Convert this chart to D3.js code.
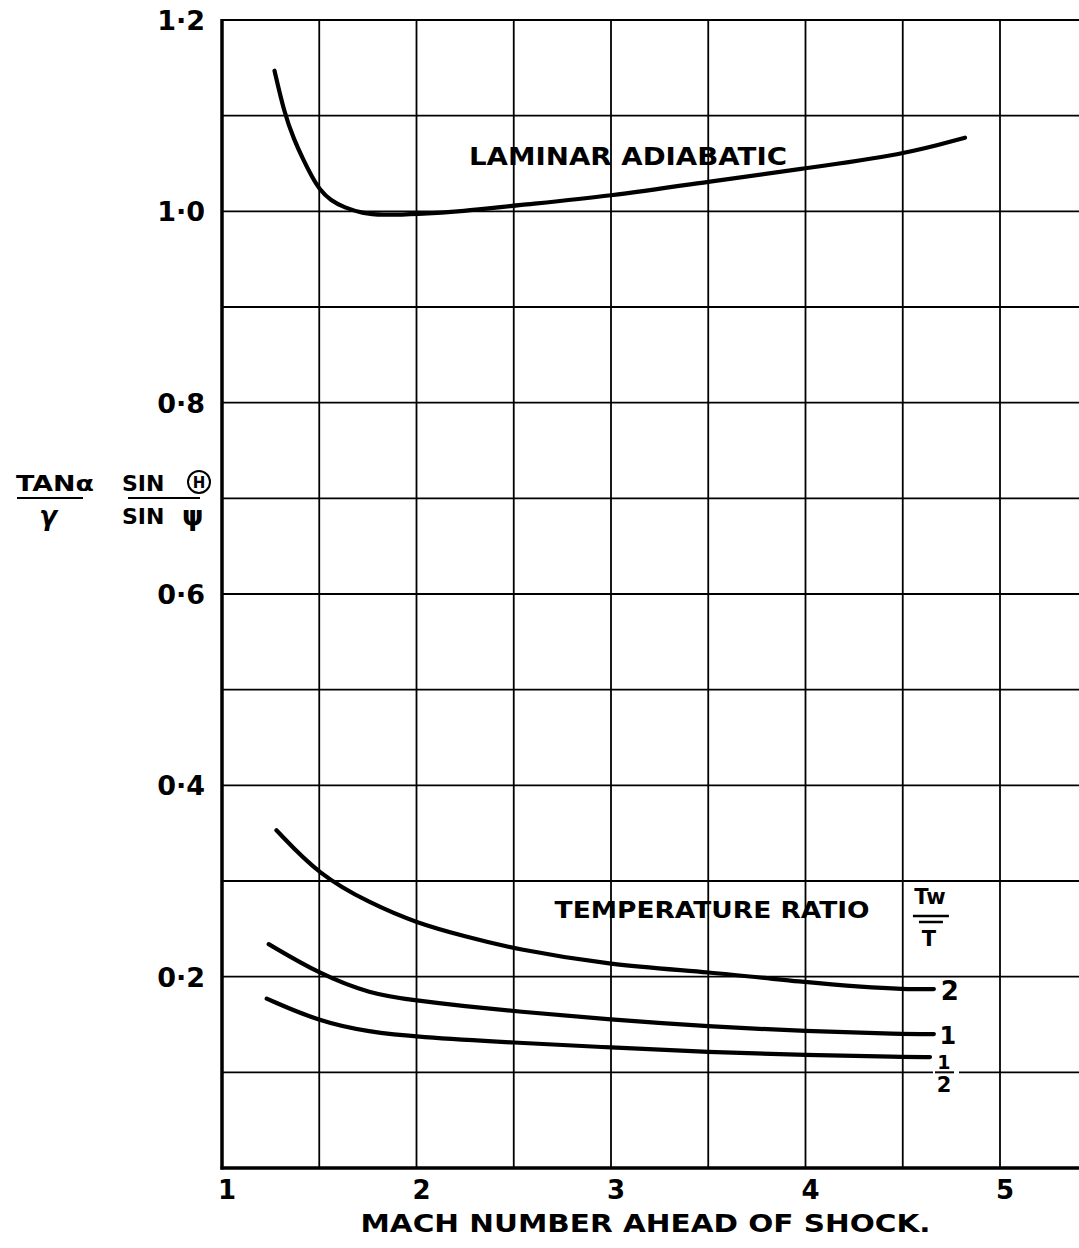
<!DOCTYPE html>
<html>
<head>
<meta charset="utf-8">
<script src="https://cdn.jsdelivr.net/npm/d3@7"></script>
<style>
	body { margin: 0; background: #fff; }
	svg { display: block; }
	text { font-family: "DejaVu Sans", sans-serif; font-weight: bold; fill: #000; }
</style>
</head>
<body>
<div id="chart"></div>
<script>
// values: [mach number, tan(alpha)/gamma * sin(H)/sin(psi)]
var laminarAdiabatic = [
	[1.27, 1.147], [1.32, 1.103], [1.37, 1.075], [1.42, 1.053], [1.46, 1.037],
	[1.5, 1.023], [1.56, 1.011], [1.63, 1.004], [1.72, 0.998], [1.82, 0.996],
	[2.0, 0.997], [2.24, 1.000], [2.5, 1.006], [3.0, 1.016], [3.5, 1.031],
	[4.0, 1.045], [4.5, 1.059], [4.82, 1.077]
];
var ratioTwo = [
	[1.28, 0.353], [1.5, 0.306], [1.76, 0.277], [2.0, 0.256], [2.25, 0.242],
	[2.5, 0.229], [3.0, 0.212], [3.5, 0.205], [4.0, 0.194], [4.3, 0.189],
	[4.5, 0.187], [4.66, 0.187]
];
var ratioOne = [
	[1.24, 0.234], [1.5, 0.203], [1.76, 0.182], [2.0, 0.175], [2.25, 0.169],
	[2.5, 0.164], [3.0, 0.155], [3.5, 0.148], [4.0, 0.143], [4.5, 0.140], [4.66, 0.140]
];
var ratioHalf = [
	[1.23, 0.177], [1.5, 0.153], [1.76, 0.142], [2.0, 0.137], [2.5, 0.131],
	[3.0, 0.126], [3.5, 0.121], [4.0, 0.118], [4.5, 0.116], [4.64, 0.116]
];

var xTicks = [1, 2, 3, 4, 5];
var xTickLabels = ["1", "2", "3", "4", "5"];
var yTicks = [0.2, 0.4, 0.6, 0.8, 1.0, 1.2];
var yTickLabels = ["0·2", "0·4", "0·6", "0·8", "1·0", "1·2"];
var xGrid = [1.5, 2, 2.5, 3, 3.5, 4, 4.5, 5];
var yGrid = [0.1, 0.2, 0.3, 0.4, 0.5, 0.6, 0.7, 0.8, 0.9, 1.0, 1.1, 1.2];

var width = 1079, height = 1248;

var svg = d3.select("#chart").append("svg")
	.attr("width", width)
	.attr("height", height);

var x = d3.scaleLinear().domain([1, 5]).range([222, 1000]);
var y = d3.scaleLinear().domain([0, 1.2]).range([1168, 20]);
var xEnd = x.invert(width);

// grid
var grid = svg.append("g").attr("stroke", "#000").attr("stroke-width", 1.8);
grid.selectAll(".vg").data(xGrid).enter().append("line")
	.attr("x1", function(d){ return x(d); })
	.attr("x2", function(d){ return x(d); })
	.attr("y1", y(1.2))
	.attr("y2", y(0));
grid.selectAll(".hg").data(yGrid).enter().append("line")
	.attr("x1", x(1))
	.attr("x2", x(xEnd))
	.attr("y1", function(d){ return y(d); })
	.attr("y2", function(d){ return y(d); });

// heavy axes
svg.append("line").attr("stroke", "#000").attr("stroke-width", 3.5)
	.attr("x1", x(1)).attr("x2", x(1)).attr("y1", y(1.2) - 1).attr("y2", y(0) + 1.5);
svg.append("line").attr("stroke", "#000").attr("stroke-width", 3.5)
	.attr("x1", x(1) - 1.5).attr("x2", x(xEnd)).attr("y1", y(0)).attr("y2", y(0));

// tick labels
svg.selectAll(".xt").data(xTicks).enter().append("text")
	.attr("x", function(d){ return x(d) + 5; })
	.attr("y", y(0) + 31)
	.attr("text-anchor", "middle")
	.attr("font-size", 26)
	.text(function(d, i){ return xTickLabels[i]; });

svg.selectAll(".yt").data(yTicks).enter().append("text")
	.attr("x", x(1) - 17)
	.attr("y", function(d){ return y(d) + 10; })
	.attr("text-anchor", "end")
	.attr("font-size", 27)
	.text(function(d, i){ return yTickLabels[i]; });

// curves
var line = d3.line()
	.x(function(d){ return x(d[0]); })
	.y(function(d){ return y(d[1]); })
	.curve(d3.curveBasis);

svg.selectAll(".curve").data([laminarAdiabatic, ratioTwo, ratioOne, ratioHalf]).enter().append("path")
	.attr("d", line)
	.attr("fill", "none")
	.attr("stroke", "#000")
	.attr("stroke-width", 4.2)
	.attr("stroke-linecap", "round")
	.attr("stroke-linejoin", "round");

// labels
svg.append("text")
	.attr("x", x(2.27)).attr("y", y(1.048))
	.attr("font-size", 24)
	.attr("textLength", 318).attr("lengthAdjust", "spacingAndGlyphs")
	.text("LAMINAR ADIABATIC");

svg.append("text")
	.attr("x", x(2.71)).attr("y", y(0.261))
	.attr("font-size", 23)
	.attr("textLength", 315).attr("lengthAdjust", "spacingAndGlyphs")
	.text("TEMPERATURE RATIO");

// Tw / T
var tw = svg.append("g").attr("transform", "translate(" + x(4.65) + "," + y(0.3) + ")");
tw.append("text").attr("x", -2).attr("y", 23).attr("text-anchor", "middle").attr("font-size", 21).text("Tw");
tw.append("line").attr("x1", -19).attr("x2", 17).attr("y1", 35).attr("y2", 35).attr("stroke", "#000").attr("stroke-width", 2.5);
tw.append("line").attr("x1", -13).attr("x2", 11).attr("y1", 41).attr("y2", 41).attr("stroke", "#000").attr("stroke-width", 2.5);
tw.append("text").attr("x", -3).attr("y", 65).attr("text-anchor", "middle").attr("font-size", 21).attr("font-weight", "normal").text("T");

// curve end labels
function endLabel(series){ return series[series.length - 1]; }
svg.append("text")
	.attr("x", x(endLabel(ratioTwo)[0]) + 16).attr("y", y(endLabel(ratioTwo)[1]) + 11)
	.attr("text-anchor", "middle").attr("font-size", 26).text("2");
svg.append("text")
	.attr("x", x(endLabel(ratioOne)[0]) + 14).attr("y", y(endLabel(ratioOne)[1]) + 10)
	.attr("text-anchor", "middle").attr("font-size", 24).attr("font-weight", "normal").text("1");
svg.append("rect")
	.attr("x", x(endLabel(ratioHalf)[0]) + 3).attr("y", y(0.1) - 3)
	.attr("width", 26).attr("height", 24).attr("fill", "#fff");
svg.append("line")
	.attr("x1", x(endLabel(ratioHalf)[0]) + 5).attr("x2", x(endLabel(ratioHalf)[0]) + 24)
	.attr("y1", y(0.1)).attr("y2", y(0.1)).attr("stroke", "#000").attr("stroke-width", 2);
svg.append("text")
	.attr("x", x(endLabel(ratioHalf)[0]) + 14).attr("y", y(0.1) - 3)
	.attr("text-anchor", "middle").attr("font-size", 19).attr("font-weight", "normal").text("1");
svg.append("text")
	.attr("x", x(endLabel(ratioHalf)[0]) + 14).attr("y", y(0.1) + 20)
	.attr("text-anchor", "middle").attr("font-size", 21).text("2");

// axis titles
svg.append("text")
	.attr("x", (x(1) + x(xEnd)) / 2 - 5).attr("y", 1232)
	.attr("text-anchor", "middle").attr("font-size", 25)
	.attr("textLength", 570).attr("lengthAdjust", "spacingAndGlyphs")
	.text("MACH NUMBER AHEAD OF SHOCK.");

var yt = svg.append("g");
yt.append("text").attr("x", 16).attr("y", 491).attr("font-size", 22)
	.attr("textLength", 78).attr("lengthAdjust", "spacingAndGlyphs").text("TANα");
yt.append("line").attr("x1", 17).attr("x2", 83).attr("y1", 498).attr("y2", 498).attr("stroke", "#000").attr("stroke-width", 2.2);
yt.append("text").attr("x", 48).attr("y", 525).attr("text-anchor", "middle").attr("font-size", 26).attr("font-style", "italic").text("γ");
yt.append("text").attr("x", 122).attr("y", 491).attr("font-size", 22).text("SIN");
yt.append("circle").attr("cx", 199).attr("cy", 482).attr("r", 11).attr("fill", "none").attr("stroke", "#000").attr("stroke-width", 2);
yt.append("text").attr("x", 199).attr("y", 488).attr("text-anchor", "middle").attr("font-size", 15).text("H");
yt.append("line").attr("x1", 128).attr("x2", 200).attr("y1", 498).attr("y2", 498).attr("stroke", "#000").attr("stroke-width", 2.2);
yt.append("text").attr("x", 122).attr("y", 524).attr("font-size", 22).text("SIN");
yt.append("text").attr("x", 182).attr("y", 525).attr("font-size", 27).text("ψ");
</script>
</body>
</html>
